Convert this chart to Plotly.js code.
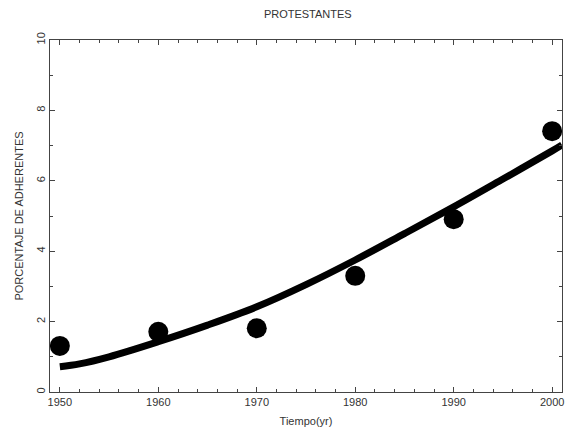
<!DOCTYPE html>
<html><head><meta charset="utf-8">
<script src="https://cdn.plot.ly/plotly-3.0.1.min.js"></script>
<style>body{margin:0;background:#fff}#chart{width:570px;height:435px}</style>
</head><body><div id="chart"></div>
<script>
const obsYears = [1950, 1960, 1970, 1980, 1990, 2000];
const obsValues = [1.31, 1.71, 1.81, 3.30, 4.91, 7.41];
const fitYears = [1950, 1952, 1955, 1960, 1965, 1970, 1975, 1980, 1985, 1990, 1995, 2000, 2001];
const fitValues = [0.72, 0.80, 1.00, 1.43, 1.90, 2.42, 3.05, 3.75, 4.50, 5.26, 6.05, 6.85, 7.02];
const xTicks = [1950, 1960, 1970, 1980, 1990, 2000];
const yTicks = [0, 2, 4, 6, 8, 10];

const font = {family: 'Liberation Sans, Arial, sans-serif', size: 11, color: '#333'};
const traces = [
  {x: fitYears, y: fitValues, mode: 'lines', line: {color: '#000', width: 7, shape: 'spline'}, hoverinfo: 'skip', cliponaxis: false},
  {x: obsYears, y: obsValues, mode: 'markers', marker: {color: '#000', size: 20, symbol: 'circle'}, cliponaxis: false}
];
const axisCommon = {
  showline: true, mirror: 'ticks', linecolor: '#444', linewidth: 1,
  ticks: 'inside', ticklen: 5, tickcolor: '#444', tickwidth: 1,
  showgrid: false, zeroline: false, tickfont: font
};
const layout = {
  width: 570, height: 435,
  margin: {l: 50, r: 8, t: 40, b: 43},
  paper_bgcolor: '#fff', plot_bgcolor: '#fff',
  showlegend: false, font: font,
  title: {text: 'PROTESTANTES', font: font, x: 0.54, xanchor: 'center', y: 0.968, yanchor: 'middle'},
  xaxis: Object.assign({}, axisCommon, {
    range: [1949, 2001], tickvals: xTicks, ticktext: xTicks.map(String),
    minor: {dtick: 2, tick0: 1950, ticks: 'inside', ticklen: 3, tickcolor: '#444'},
    title: {text: 'Tiempo(yr)', font: font, standoff: 10}
  }),
  yaxis: Object.assign({}, axisCommon, {
    range: [0, 10], tickvals: yTicks, ticktext: yTicks.map(String), tickangle: -90,
    minor: {dtick: 1, tick0: 0, ticks: 'inside', ticklen: 3, tickcolor: '#444'},
    title: {text: 'PORCENTAJE DE ADHERENTES', font: font, standoff: 8}
  })
};
Plotly.newPlot('chart', traces, layout, {displayModeBar: false, staticPlot: true});
</script></body></html>
